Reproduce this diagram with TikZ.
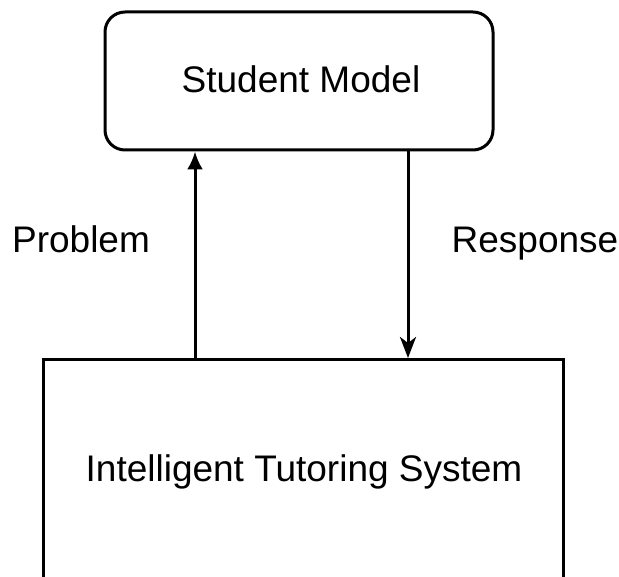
\documentclass[tikz,border=0pt]{standalone}
\usepackage{fontspec}
\setmainfont{Liberation Sans}
\usetikzlibrary{arrows.meta}
\begin{document}
\begin{tikzpicture}[x=1pt,y=-1pt,
  boxline/.style={draw=black,line width=3pt},
  lbl/.style={font=\fontsize{37}{44}\selectfont,inner sep=0pt,anchor=base},
  upflow/.style={line width=3pt,-{Latex[length=18pt,width=16pt]}},
  downflow/.style={line width=3pt,-{Stealth[length=21pt,width=16pt,inset=6pt]}}]
  \useasboundingbox (0,0) rectangle (619,577);
  \clip (0,0) rectangle (619,577);
  % student model (rounded box)
  \node[boxline,rounded corners=20pt,minimum width=388pt,minimum height=138pt] (sm) at (299,81) {};
  \node[lbl] (smtext) at (301,93) {Student Model};
  % tutoring system (runs off the bottom edge)
  \node[boxline,minimum width=520pt,minimum height=260pt,anchor=north] (its) at (303,358) {};
  \node[lbl] (itstext) at (304,482) {Intelligent Tutoring System};
  % connectors
  \coordinate (px) at (195,0);
  \coordinate (rx) at (408,0);
  \draw[upflow] (its.north -| px) -- (sm.south -| px);
  \draw[downflow] (sm.south -| rx) -- (its.north -| rx);
  \node[lbl] (prob) at (81,253) {Problem};
  \node[lbl] (resp) at (535,253) {Response};
\end{tikzpicture}
\end{document}
